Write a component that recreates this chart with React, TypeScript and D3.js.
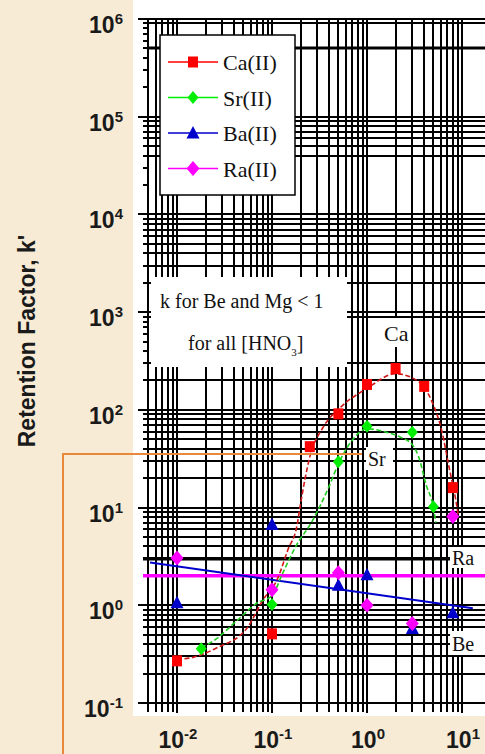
import React from "react";
import * as d3 from "d3";

const W = 485;
const H = 754;

// Measured data points
const caX = [0.01, 0.1, 0.25, 0.5, 1, 2, 4, 8];
const caK = [0.27, 0.51, 42, 91, 182, 265, 174, 16];
const srX = [0.018, 0.1, 0.5, 1, 3, 5];
const srK = [0.36, 1.02, 29.5, 68, 59, 10.2];
const baX = [0.01, 0.1, 0.5, 1, 3, 8];
const baK = [1.06, 6.7, 1.6, 2.05, 0.58, 0.84];
const raX = [0.01, 0.1, 0.5, 1, 3, 8];
const raK = [3.05, 1.44, 2.15, 1.0, 0.65, 8.1];

// Fitted curves
const caFitX = [0.01, 0.014, 0.026, 0.055, 0.08, 0.113, 0.147, 0.183, 0.2, 0.25, 0.344, 0.52, 1, 2, 3.5, 4.8, 6.2, 7.3, 8.6, 9.2];
const caFitK = [0.28, 0.29, 0.365, 0.59, 1.13, 1.82, 3.7, 6.5, 11, 33, 66, 105, 166, 234, 195, 123, 58, 26, 12, 8];
const srFitX = [0.018, 0.024, 0.043, 0.069, 0.1, 0.13, 0.188, 0.25, 0.4, 0.5, 0.7, 1, 1.6, 2.3, 3, 3.5, 4.2, 5, 5.3];
const srFitK = [0.37, 0.43, 0.7, 1.05, 1.25, 2.15, 4.4, 6.6, 16.6, 28, 49, 64, 59, 52, 44, 33, 17, 10, 7];
const beFitX = [0.0052, 13];
const beFitK = [2.74, 0.93];
const raLevel = 2;
const blackLevel = 3;

// Horizontal grid lines that show in the picture, per decade
const gridDecades = [-1, 0, 1, 2, 3, 4, 5];
const gridMults = [
  [1, 2, 3, 4, 5, 6, 7, 8, 9],
  [1, 2, 3, 4, 5, 6, 7, 8, 9],
  [1, 2, 3, 4, 5, 6, 7, 8, 9],
  [1, 2, 3, 9],
  [1, 2, 3, 4, 5, 6, 7, 8, 9],
  [1, 4, 5, 6, 7, 8, 9],
  [1, 5, 9, 10],
];

const legendNames = ["Ca(II)", "Sr(II)", "Ba(II)", "Ra(II)"];
const legendColors = ["#ff0000", "#00ee00", "#0000cc", "#ff00ff"];
const legendShapes = ["square", "diamond", "triangle", "bigdiamond"];

const yTickExps = [6, 5, 4, 3, 2, 1, 0, -1];
const xTickExps = [-2, -1, 0, 1];

export default function App() {
  const x = d3.scaleLog().domain([0.005, 20]).range([148.4, 490.6]);
  const y = d3.scaleLog().domain([0.1, 1e6]).range([703, 19]);

  const left = 148;
  const top = 19;
  const bottom = 703;
  const right = W;

  const gridY: number[] = [];
  gridDecades.forEach((e, i) => gridMults[i].forEach(n => gridY.push(n * Math.pow(10, e))));
  const tickY: number[] = [];
  for (let e = -1; e < 6; e++) for (let n = 1; n < 10; n++) tickY.push(n * Math.pow(10, e));
  tickY.push(1e6);
  const gridX: number[] = [];
  for (let e = -3; e < 2; e++) for (let n = 1; n < 10; n++) {
    const v = n * Math.pow(10, e);
    if (v >= 0.005 && v <= 20) gridX.push(v);
  }
  const isMajor = (v: number) => Math.abs(Math.log10(v) - Math.round(Math.log10(v))) < 1e-9;

  const line = d3.line<[number, number]>().x(d => x(d[0])).y(d => y(d[1])).curve(d3.curveMonotoneX);
  const straight = d3.line<[number, number]>().x(d => x(d[0])).y(d => y(d[1]));

  const caFit = caFitX.map((v, i) => [v, caFitK[i]] as [number, number]);
  const srFit = srFitX.map((v, i) => [v, srFitK[i]] as [number, number]);
  const beFit = beFitX.map((v, i) => [v, beFitK[i]] as [number, number]);

  const marker = (shape: string, cx: number, cy: number, color: string, key: string) => {
    if (shape === "square") return <rect key={key} x={cx - 5} y={cy - 5.5} width={10} height={11} fill={color} />;
    if (shape === "diamond") return <path key={key} d={`M${cx},${cy - 6.5}L${cx + 5.5},${cy}L${cx},${cy + 6.5}L${cx - 5.5},${cy}Z`} fill={color} />;
    if (shape === "bigdiamond") return <path key={key} d={`M${cx},${cy - 7.5}L${cx + 6.5},${cy}L${cx},${cy + 7.5}L${cx - 6.5},${cy}Z`} fill={color} />;
    return <path key={key} d={`M${cx},${cy - 7}L${cx + 6.5},${cy + 5.5}L${cx - 6.5},${cy + 5.5}Z`} fill={color} />;
  };

  const series = [
    { xs: caX, ks: caK, c: legendColors[0], s: legendShapes[0] },
    { xs: srX, ks: srK, c: legendColors[1], s: legendShapes[1] },
    { xs: baX, ks: baK, c: legendColors[2], s: legendShapes[2] },
    { xs: raX, ks: raK, c: legendColors[3], s: legendShapes[3] },
  ];

  return (
    <svg width={W} height={H} style={{ position: "fixed", left: 0, top: 0, display: "block" }}>
      <rect x={0} y={0} width={W} height={H} fill="#f8ebd5" />
      <rect x={133} y={0} width={W - 133} height={716} fill="#ffffff" />

      {/* grid */}
      <g stroke="#000">
        {gridY.map((v, i) => (
          <line key={"gy" + i} x1={left} x2={right} y1={Math.round(y(v))} y2={Math.round(y(v))} strokeWidth={v === 5e5 ? 3 : 2} />
        ))}
        {tickY.map((v, i) => (
          <line key={"ty" + i} x1={isMajor(v) ? left - 10 : left - 5} x2={left} y1={Math.round(y(v))} y2={Math.round(y(v))} strokeWidth={2} />
        ))}
        {gridX.map((v, i) => (
          <line key={"gx" + i} x1={Math.round(x(v))} x2={Math.round(x(v))} y1={top} y2={bottom + (isMajor(v) ? 10 : 9)} strokeWidth={2} />
        ))}
        <line x1={left} x2={left} y1={top} y2={bottom + 9} strokeWidth={2} />
      </g>

      {/* annotation box */}
      <rect x={151} y={277} width={196} height={90} fill="#fff" />
      <text x={160} y={308} fontFamily="Liberation Serif, serif" fontSize={20} fill="#111">k for Be and Mg &lt; 1</text>
      <text x={188} y={350} fontFamily="Liberation Serif, serif" fontSize={20} fill="#111">for all [HNO<tspan fontSize={11} dy={6}>3</tspan><tspan dy={-6}>]</tspan></text>

      {/* reference levels */}
      <line x1={left - 5} x2={450} y1={y(blackLevel)} y2={y(blackLevel)} stroke="#000" strokeWidth={3.5} />
      <line x1={left - 5} x2={right} y1={y(raLevel)} y2={y(raLevel)} stroke="#ff00ff" strokeWidth={3.5} />
      <path d={straight(beFit) || ""} fill="none" stroke="#0000cc" strokeWidth={2} />

      {/* curve labels */}
      <rect x={382} y={318} width={28} height={29} fill="#fff" />
      <text x={384} y={341} fontFamily="Liberation Serif, serif" fontSize={22} fill="#111">Ca</text>
      <rect x={366} y={447} width={27} height={23} fill="#fff" />
      <text x={368} y={466} fontFamily="Liberation Serif, serif" fontSize={20} fill="#111">Sr</text>
      <rect x={450} y={547} width={35} height={21} fill="#fff" />
      <text x={452} y={565} fontFamily="Liberation Serif, serif" fontSize={20} fill="#111">Ra</text>
      <rect x={450} y={631} width={35} height={24} fill="#fff" />
      <text x={452} y={651} fontFamily="Liberation Serif, serif" fontSize={20} fill="#111">Be</text>

      {/* fits */}
      <path d={line(caFit) || ""} fill="none" stroke="#d01818" strokeWidth={1.6} strokeDasharray="5,2.5" />
      <path d={line(srFit) || ""} fill="none" stroke="#22cc22" strokeWidth={1.6} strokeDasharray="5,2.5" />

      {/* markers */}
      {series.map((s, si) => s.xs.map((v, i) => marker(s.s, x(v), y(s.ks[i]), s.c, `m${si}-${i}`)))}

      {/* legend */}
      <rect x={160} y={35} width={135} height={160} fill="#fff" stroke="#000" strokeWidth={1.5} />
      {legendNames.map((n, i) => {
        const ly = 62 + i * 35.5;
        return (
          <g key={"lg" + i}>
            <line x1={168} x2={218} y1={ly} y2={ly} stroke={legendColors[i]} strokeWidth={1.5} />
            {marker(legendShapes[i], 193, ly, legendColors[i], "lm" + i)}
            <text x={223} y={ly + 8} fontFamily="Liberation Serif, serif" fontSize={22} fill="#111">{n}</text>
          </g>
        );
      })}

      {/* y tick labels */}
      {yTickExps.map(e => (
        <text key={"yl" + e} x={123} y={y(Math.pow(10, e)) + 14} textAnchor="end" fontFamily="Liberation Sans, Arial, sans-serif" fontWeight="bold" fontSize={23} fill="#1a1a1a">
          10<tspan fontSize={15} dy={-9}>{String(e)}</tspan>
        </text>
      ))}
      {/* x tick labels */}
      {xTickExps.map(e => (
        <text key={"xl" + e} x={x(Math.pow(10, e)) + 1} y={748} textAnchor="middle" fontFamily="Liberation Sans, Arial, sans-serif" fontWeight="bold" fontSize={23} fill="#1a1a1a">
          10<tspan fontSize={15} dy={-9}>{String(e)}</tspan>
        </text>
      ))}

      {/* axis title */}
      <text transform="translate(35,341) rotate(-90)" textAnchor="middle" fontFamily="Liberation Sans, Arial, sans-serif" fontWeight="bold" fontSize={23} fill="#1a1a1a">Retention Factor, k'</text>

      {/* orange callout */}
      <path d={`M63,${H}L63,454L362,454`} fill="none" stroke="#e8883a" strokeWidth={2} />
    </svg>
  );
}
